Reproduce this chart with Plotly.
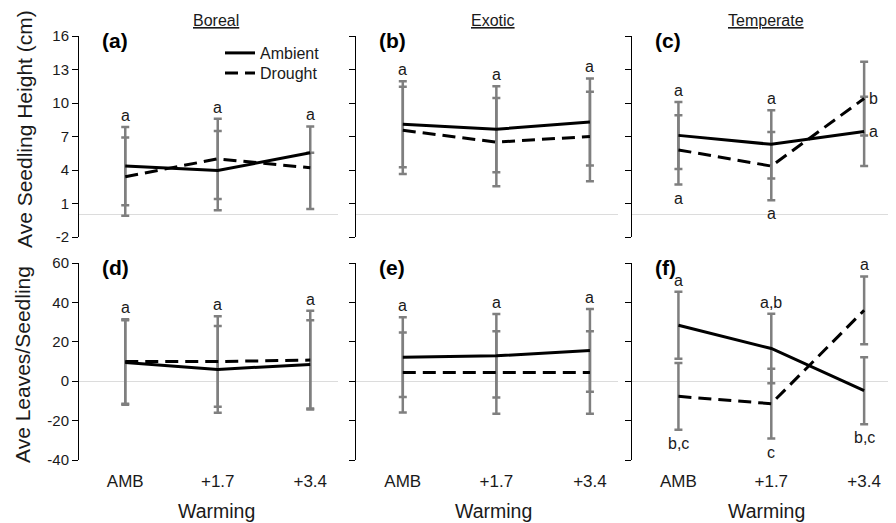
import plotly.graph_objects as go

W, H = 896, 523
OFF = 8  # page body margin offset compensation
FONT = "Liberation Sans, Arial, sans-serif"

warming = ["AMB", "+1.7", "+3.4"]
xpos = [0, 1, 2]
columns = ["Boreal", "Exotic", "Temperate"]
panel_labels = ["(a)", "(b)", "(c)", "(d)", "(e)", "(f)"]

# Seedling height (cm)
height_amb = [[4.35, 3.95, 5.55], [8.1, 7.65, 8.3], [7.1, 6.3, 7.45]]
height_amb_err = [[3.5, 3.55, None], [3.85, 3.85, 3.9], [3.0, 3.05, 3.1]]
height_dro = [[3.4, 5.0, 4.2], [7.55, 6.5, 7.0], [5.8, 4.35, 10.4]]
height_dro_err = [[3.5, 3.6, 3.7], [3.9, 3.95, 4.0], [3.1, 3.05, 3.3]]

# Leaves per seedling
leaves_amb = [[9.5, 6.0, 8.5], [12.2, 12.9, 15.6], [28.4, 16.6, -4.8]]
leaves_amb_err = [[21.5, 22.0, 22.4], [20.2, 21.2, 21.0], [17.0, 17.7, 17.0]]
leaves_dro = [[10.0, 10.0, 10.7], [4.4, 4.4, 4.4], [-7.7, -11.4, 36.0]]
leaves_dro_err = [[21.4, 23.0, 25.1], [20.3, 20.9, 20.9], [17.0, 17.7, 17.2]]

letters_above = [["a", "a", "a"], ["a", "a", "a"], ["a", "a", ""],
                 ["a", "a", "a"], ["a", "a", "a"], ["a", "a,b", "a"]]
letters_below = [["", "", ""], ["", "", ""], ["a", "a", ""],
                 ["", "", ""], ["", "", ""], ["b,c", "c", "b,c"]]
side_letters_c = {"amb": "a", "dro": "b"}

height_ticks = [-2, 1, 4, 7, 10, 13, 16]
leaves_ticks = [-40, -20, 0, 20, 40, 60]

col_px = [(79, 338), (356, 618), (632, 892)]
row_px = [(36, 237), (263, 460)]  # (top, bottom) pixels
xrange_ = [-0.5, 2.3]


def px(x):
    return (x - OFF) / W


def py(y):
    return 1 - (y - OFF) / H


fig = go.Figure()


def ax_name(kind, i):
    return kind if i == 1 else f"{kind}{i}"


ERR_COLOR = "#7f7f7f"
TXT = "#1a1a1a"

for r in range(2):
    for c in range(3):
        i = r * 3 + c + 1
        xa, ya = (f"x{i}", f"y{i}") if i > 1 else ("x", "y")
        if r == 0:
            amb, ambe = height_amb[c], height_amb_err[c]
            dro, droe = height_dro[c], height_dro_err[c]
        else:
            amb, ambe = leaves_amb[c], leaves_amb_err[c]
            dro, droe = leaves_dro[c], leaves_dro_err[c]
        for vals, errs in ((amb, ambe), (dro, droe)):
            fig.add_trace(go.Scatter(
                x=xpos, y=vals, mode="markers", xaxis=xa, yaxis=ya,
                marker=dict(size=1, color="rgba(0,0,0,0)"),
                error_y=dict(type="data", array=errs, visible=True,
                             color=ERR_COLOR, thickness=2.5, width=4),
                showlegend=False, hoverinfo="skip"))
        fig.add_trace(go.Scatter(
            x=xpos, y=amb, mode="lines", xaxis=xa, yaxis=ya,
            line=dict(color="black", width=3), name="Ambient",
            showlegend=(i == 1), legend="legend"))
        fig.add_trace(go.Scatter(
            x=xpos, y=dro, mode="lines", xaxis=xa, yaxis=ya,
            line=dict(color="black", width=3, dash="13px,7px"), name="Drought",
            showlegend=(i == 1), legend="legend2"))

        for k in range(3):
            pairs = [(v, e) for v, e in ((amb[k], ambe[k]), (dro[k], droe[k])) if e is not None]
            top = max(v + e for v, e in pairs)
            bot = min(v - e for v, e in pairs)
            if letters_above[i - 1][k]:
                fig.add_annotation(x=xpos[k], y=top, xref=xa, yref=ya,
                                   text=letters_above[i - 1][k], showarrow=False,
                                   xanchor="center", yanchor="bottom", yshift=1,
                                   font=dict(size=16, color=TXT, family=FONT))
            if letters_below[i - 1][k]:
                fig.add_annotation(x=xpos[k], y=bot, xref=xa, yref=ya,
                                   text=letters_below[i - 1][k], showarrow=False,
                                   xanchor="center", yanchor="top", yshift=-3,
                                   font=dict(size=16, color=TXT, family=FONT))
        if i == 3:
            for key, val in (("amb", amb[2]), ("dro", dro[2])):
                fig.add_annotation(x=xpos[2], y=val, xref=xa, yref=ya,
                                   text=side_letters_c[key], showarrow=False,
                                   xanchor="left", yanchor="middle", xshift=3,
                                   font=dict(size=16, color=TXT, family=FONT))

        x0, x1 = col_px[c]
        t, b = row_px[r]
        ticks = height_ticks if r == 0 else leaves_ticks
        fig.layout[ax_name("xaxis", i)] = dict(
            domain=[px(x0), px(x1)], range=xrange_, anchor=ya, automargin=False,
            showline=False, showgrid=False, zeroline=False, ticks="",
            tickvals=xpos, ticktext=warming, showticklabels=(r == 1),
            ticklabelstandoff=9,
            tickfont=dict(size=17, color=TXT, family=FONT))
        fig.layout[ax_name("yaxis", i)] = dict(
            domain=[py(b), py(t)], automargin=False,
            range=[-2, 16] if r == 0 else [-40, 60], anchor=xa,
            tickvals=ticks, ticktext=[str(v) for v in ticks],
            showticklabels=(c == 0), ticks="outside", ticklen=6,
            tickcolor="black", showline=True, linecolor="black", linewidth=1,
            showgrid=False, zeroline=True, zerolinecolor="#dcdcdc",
            zerolinewidth=1,
            tickfont=dict(size=15, color=TXT, family=FONT))

        fig.add_annotation(x=px(x0 + 21), y=py(t + 4), xref="paper", yref="paper",
                           text=f"<b>{panel_labels[i - 1]}</b>", showarrow=False,
                           xanchor="left", yanchor="middle",
                           font=dict(size=21, color="black", family=FONT))

col_centers = [216, 493, 766]
for c, name in enumerate(columns):
    fig.add_annotation(x=px(col_centers[c]), y=py(20), xref="paper", yref="paper",
                       text=f"<u>{name}</u>", showarrow=False,
                       xanchor="center", yanchor="middle",
                       font=dict(size=16, color=TXT, family=FONT))
    fig.add_annotation(x=px(col_centers[c]), y=py(511), xref="paper", yref="paper",
                       text="Warming", showarrow=False,
                       xanchor="center", yanchor="middle",
                       font=dict(size=19.5, color=TXT, family=FONT))

fig.add_annotation(x=px(25), y=py(129), xref="paper", yref="paper",
                   text="Ave Seedling Height (cm)", textangle=-90, showarrow=False,
                   xanchor="center", yanchor="middle",
                   font=dict(size=21, color=TXT, family=FONT))
fig.add_annotation(x=px(22), y=py(365), xref="paper", yref="paper",
                   text="Ave Leaves/Seedling", textangle=-90, showarrow=False,
                   xanchor="center", yanchor="middle",
                   font=dict(size=21, color=TXT, family=FONT))

legend_style = dict(xanchor="left", yanchor="middle", bgcolor="rgba(0,0,0,0)",
                    font=dict(size=16, color=TXT, family=FONT), itemwidth=30)
fig.update_layout(
    width=W, height=H,
    margin=dict(l=0, r=0, t=0, b=0, autoexpand=False),
    paper_bgcolor="white", plot_bgcolor="white",
    font=dict(family=FONT, color=TXT),
    legend=dict(x=px(220), y=py(53), **legend_style),
    legend2=dict(x=px(220), y=py(73), **legend_style),
)

fig.write_html("out.html")
